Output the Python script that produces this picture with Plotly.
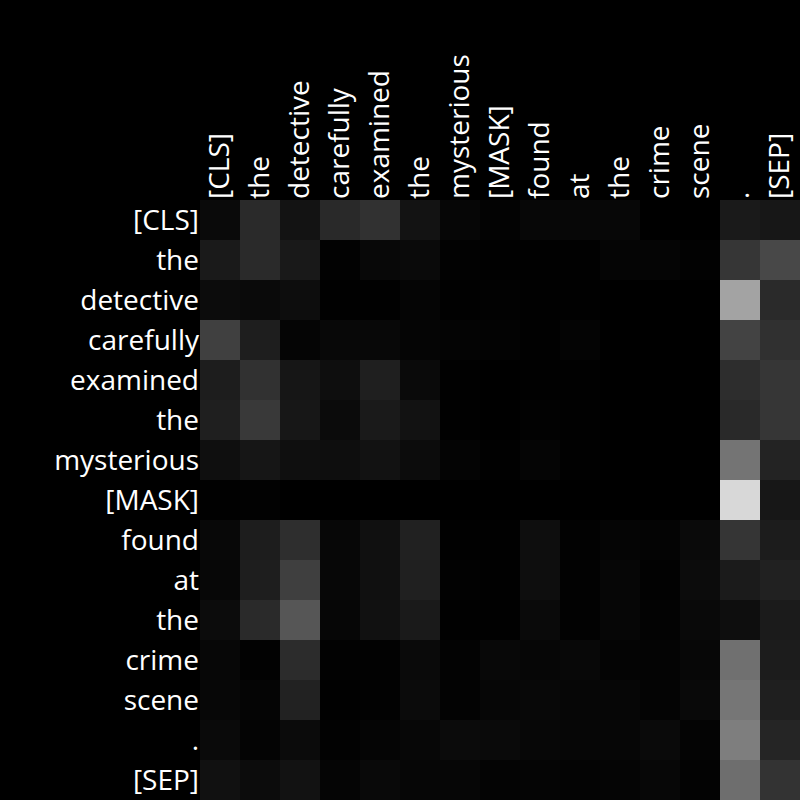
import plotly.graph_objects as go

tokens = ["[CLS]", "the", "detective", "carefully", "examined", "the", "mysterious",
          "[MASK]", "found", "at", "the", "crime", "scene", ".", "[SEP]"]

# attention weights (scaled 0-255)
attn = [
    [10, 42, 19, 41, 49, 19, 6, 3, 7, 7, 7, 0, 0, 26, 23],
    [26, 42, 25, 2, 8, 10, 2, 1, 1, 1, 5, 5, 2, 54, 72],
    [12, 10, 13, 1, 1, 5, 1, 2, 1, 1, 0, 0, 0, 163, 42],
    [64, 30, 5, 8, 8, 5, 4, 3, 1, 4, 0, 0, 0, 67, 48],
    [29, 49, 22, 14, 31, 10, 1, 0, 1, 1, 0, 0, 0, 45, 54],
    [31, 57, 23, 11, 26, 18, 1, 0, 2, 1, 0, 0, 0, 41, 54],
    [15, 22, 15, 14, 18, 12, 4, 1, 5, 1, 0, 0, 0, 116, 35],
    [1, 2, 0, 0, 0, 0, 0, 0, 0, 0, 0, 0, 0, 216, 23],
    [8, 29, 46, 7, 16, 33, 1, 1, 14, 2, 5, 4, 10, 53, 28],
    [7, 30, 63, 7, 16, 32, 2, 1, 14, 2, 6, 2, 12, 27, 33],
    [12, 42, 86, 6, 17, 26, 1, 1, 10, 2, 6, 3, 9, 14, 27],
    [7, 2, 44, 2, 2, 10, 3, 8, 6, 8, 4, 4, 7, 112, 28],
    [7, 5, 34, 1, 2, 11, 3, 6, 8, 6, 6, 4, 9, 118, 31],
    [10, 4, 11, 2, 5, 7, 11, 10, 7, 6, 6, 10, 4, 126, 37],
    [17, 12, 18, 5, 9, 6, 6, 4, 5, 4, 5, 7, 3, 110, 51],
]

idx = list(range(len(tokens)))

fig = go.Figure(go.Heatmap(
    z=attn, x=idx, y=idx,
    colorscale=[[0, "#000000"], [1, "#ffffff"]],
    zmin=0, zmax=255, showscale=False, xgap=0, ygap=0,
))

fig.update_layout(
    width=800, height=800,
    margin=dict(l=200, r=0, t=200, b=0),
    paper_bgcolor="black", plot_bgcolor="black",
    font=dict(family="Open Sans", size=28, color="white"),
    xaxis=dict(side="top", tickmode="array", tickvals=idx, ticktext=tokens,
               tickangle=-90, showgrid=False, zeroline=False, ticks="",
               range=[-0.5, 14.5]),
    yaxis=dict(tickmode="array", tickvals=idx, ticktext=tokens,
               autorange="reversed", showgrid=False, zeroline=False, ticks=""),
)

fig.write_html("out.html")
